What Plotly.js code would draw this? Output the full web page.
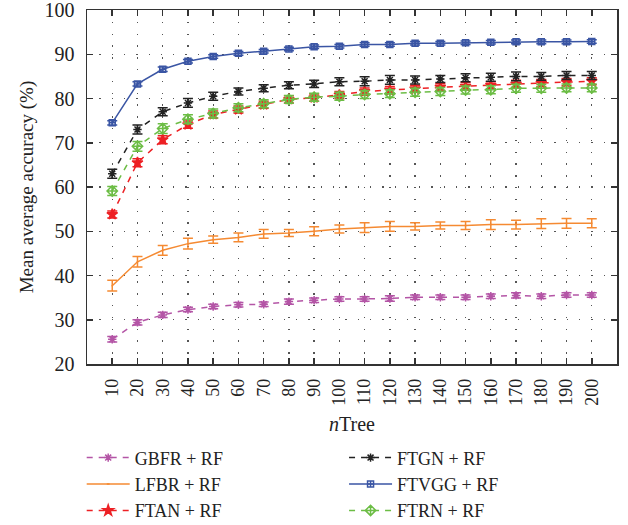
<!DOCTYPE html>
<html>
<head>
<meta charset="utf-8">
<script src="https://cdn.plot.ly/plotly-3.0.1.min.js"></script>
<style>html,body{margin:0;padding:0;background:#fff;}#chart{width:628px;height:525px;}</style>
</head>
<body>
<div id="chart"></div>
<script>
const nTree = [10,20,30,40,50,60,70,80,90,100,110,120,130,140,150,160,170,180,190,200];

const gbfr  = [25.6,29.4,31.1,32.3,33.0,33.4,33.5,34.1,34.4,34.7,34.7,34.8,35.1,35.1,35.1,35.3,35.5,35.3,35.6,35.6];
const gbfrErr = [0.6,0.6,0.6,0.5,0.5,0.5,0.5,0.6,0.5,0.5,0.5,0.6,0.5,0.5,0.5,0.5,0.6,0.5,0.5,0.5];

const lfbr  = [37.7,43.1,45.7,47.2,48.1,48.6,49.4,49.6,50.0,50.5,50.8,51.1,51.1,51.3,51.3,51.5,51.5,51.7,51.8,51.8];
const lfbrErr = [1.2,1.2,1.1,1.2,0.8,1.0,1.0,0.8,1.0,0.9,1.1,1.1,0.8,0.8,0.9,1.1,1.0,1.1,1.1,1.0];

const ftan  = [53.8,65.5,70.7,74.1,76.4,77.5,78.6,79.8,80.2,80.8,81.6,81.9,82.2,82.6,82.8,83.0,83.3,83.5,83.7,83.9];
const ftanErr = [0.8,0.9,0.9,0.8,0.8,0.8,0.8,0.8,0.8,0.8,0.8,0.8,0.8,0.8,0.8,0.8,0.8,0.8,0.8,0.8];

const ftgn  = [63.0,73.0,77.0,79.0,80.5,81.6,82.3,83.0,83.3,83.8,83.9,84.2,84.2,84.4,84.7,84.8,85.0,85.0,85.2,85.2];
const ftgnErr = [1.0,1.0,0.9,1.0,0.9,0.8,0.8,0.8,0.8,0.9,1.0,1.0,0.9,0.8,0.9,0.9,1.0,0.9,0.9,0.9];

const ftvgg = [74.5,83.3,86.6,88.4,89.5,90.2,90.7,91.2,91.7,91.8,92.2,92.2,92.5,92.5,92.6,92.7,92.8,92.8,92.8,92.9];
const ftvggErr = [0.5,0.5,0.5,0.4,0.4,0.4,0.4,0.4,0.4,0.4,0.4,0.4,0.4,0.4,0.4,0.4,0.4,0.4,0.4,0.4];

const ftrn  = [59.1,69.2,73.2,75.3,76.6,77.9,78.8,79.8,80.3,80.5,80.9,81.1,81.4,81.6,81.9,82.0,82.3,82.3,82.4,82.4];
const ftrnErr = [1.0,1.1,1.1,1.0,1.0,0.9,0.9,0.9,0.9,0.9,0.9,0.9,0.9,0.9,0.9,0.9,0.9,0.9,0.9,0.9];

const names = ["GBFR + RF","LFBR + RF","FTAN + RF","FTGN + RF","FTVGG + RF","FTRN + RF"];
const yTicks = [20,30,40,50,60,70,80,90,100];

function tr(name, y, err, color, dash, symbol, msize, leg) {
  return {
    x: nTree, y: y, name: name, type: 'scatter', mode: 'lines+markers', legend: leg,
    line: {color: color, width: 1.5, dash: dash},
    marker: {symbol: symbol, size: msize, color: color, line: {color: color, width: 1.5}},
    error_y: {type: 'data', array: err, visible: true, color: color, thickness: 1.5, width: 5}
  };
}

const data = [
  tr(names[0], gbfr, gbfrErr, '#b455a6', '6px,6px', 'asterisk-open', 7, 'legend'),
  tr(names[1], lfbr, lfbrErr, '#f58a32', 'solid', 'line-ew-open', 1, 'legend'),
  tr(names[2], ftan, ftanErr, '#ed2024', '6px,6px', 'star', 8, 'legend'),
  tr(names[3], ftgn, ftgnErr, '#222222', '6px,6px', 'asterisk-open', 7, 'legend2'),
  tr(names[4], ftvgg, ftvggErr, '#3a55a4', 'solid', 'square-cross-open', 6, 'legend2'),
  tr(names[5], ftrn, ftrnErr, '#6cbd45', '6px,6px', 'diamond-cross-open', 8, 'legend2')
];

const font = "'Liberation Serif', 'DejaVu Serif', serif";
const legFont = {family: font, size: 18, color: '#222'};

const layout = {
  width: 628, height: 525,
  margin: {l: 87, r: 11, t: 10, b: 161, autoexpand: false},
  paper_bgcolor: '#fff', plot_bgcolor: '#fff',
  font: {family: font, color: '#222', size: 18},
  showlegend: true,
  legend: {
    orientation: 'v', x: -0.01, xanchor: 'left', y: -0.213, yanchor: 'top',
    itemwidth: 43, font: legFont, traceorder: 'normal', tracegroupgap: 0,
    bgcolor: 'rgba(0,0,0,0)'
  },
  legend2: {
    orientation: 'v', x: 0.485, xanchor: 'left', y: -0.213, yanchor: 'top',
    itemwidth: 43, font: legFont, traceorder: 'normal', tracegroupgap: 0,
    bgcolor: 'rgba(0,0,0,0)'
  },
  xaxis: {
    range: [0, 210], tickmode: 'array', tickvals: nTree, ticktext: nTree.map(String),
    tickangle: -90, ticks: 'inside', ticklen: 6, tickwidth: 1.5, tickcolor: '#333',
    showline: true, linecolor: '#333', linewidth: 1.5, mirror: 'ticks',
    showgrid: true, gridcolor: '#555', gridwidth: 1.3, griddash: '1.3px,10.5px',
    zeroline: false, tickfont: {family: font, size: 18, color: '#222'},
    ticklabelstandoff: 6, ticklabeloverflow: 'allow',
    automargin: false,
    title: {text: '<i>n</i>Tree', font: {family: font, size: 20, color: '#222'}, standoff: 12}
  },
  yaxis: {
    range: [20, 100], tickmode: 'array', tickvals: yTicks, ticktext: yTicks.map(String),
    ticks: 'inside', ticklen: 6, tickwidth: 1.5, tickcolor: '#333',
    showline: true, linecolor: '#333', linewidth: 1.5, mirror: 'ticks',
    showgrid: true, gridcolor: '#555', gridwidth: 1.3, griddash: '1.3px,11px',
    zeroline: false, tickfont: {family: font, size: 20, color: '#222'},
    ticklabelstandoff: 7, ticklabeloverflow: 'allow',
    automargin: false,
    title: {text: 'Mean average accuracy (%)', font: {family: font, size: 19, color: '#222'}, standoff: 6}
  }
};

Plotly.newPlot('chart', data, layout, {displayModeBar: false, staticPlot: true});
</script>
</body>
</html>
